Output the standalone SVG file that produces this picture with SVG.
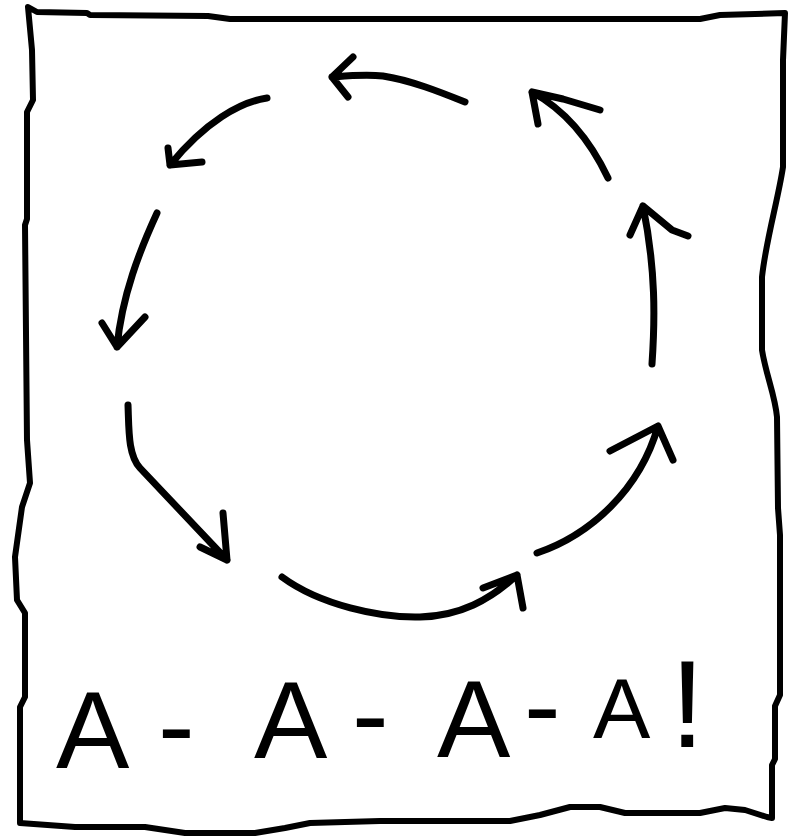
<svg xmlns="http://www.w3.org/2000/svg" width="788" height="838" viewBox="0 0 788 838">
<style>
.ink{fill:none;stroke:#000;stroke-linecap:round;stroke-linejoin:round}
.frame{stroke-width:6}
.arrow{stroke-width:7}
.label{font-family:"Liberation Sans",Arial,sans-serif;font-size:110px;fill:#000}
</style>
<rect width="788" height="838" fill="#fff"/>
<g id="frame">
<path class="ink frame" d="M37,12 L87,13 L90,15 L208,16 L230,19 L700,19 L720,15 L785,13 L783,60 L783,167 C778,200 766,240 762,277 L762,350 C766,375 775,395 777,417 L778,508 L780,535 L780,695 L775,706 L775,759 L772,765 L772,818 L767,817 L745,810 L725,808 L700,813 L625,813 L600,807 L570,807 L540,815 L510,821 L380,821 L310,823 L285,828 L255,833 L185,833 L145,827 L75,827 L20,823 L20,707 L25,697 L25,613 L17,600 L15,557 L22,507 L30,483 L27,440 L25,225 L27,219 L27,112 L33,100 L32,50 L28,7 Z"/>
</g>
<g id="connectors">
<g id="arrow1"><path class="ink arrow" d="M465,102 C440,92 410,80 383,76 C365,74 345,76 332,77 M353,57 L332,77 L348,97"/></g>
<g id="arrow2"><path class="ink arrow" d="M267,98 C240,102 205,122 170,165 M168,148 L170,165 L202,162"/></g>
<g id="arrow3"><path class="ink arrow" d="M157,213 C140,250 122,295 117,347 M102,323 L117,347 L145,317"/></g>
<g id="arrow4"><path class="ink arrow" d="M128,405 C129,430 128,455 140,468 L227,560 M223,513 L227,560 L200,547"/></g>
<g id="arrow5"><path class="ink arrow" d="M282,577 C320,605 380,618 420,617 C460,616 490,600 517,575 M483,588 L517,575 L523,608"/></g>
<g id="arrow6"><path class="ink arrow" d="M537,553 C590,535 640,490 658,426 M610,451 L658,426 L673,460"/></g>
<g id="arrow7"><path class="ink arrow" d="M652,364 C655,320 656,270 643,206 M630,235 L643,206 L672,230 L688,236"/></g>
<g id="arrow8"><path class="ink arrow" d="M608,178 C590,140 565,110 532,92 M600,110 L563,99 L532,92 L538,124"/></g>
</g>
<g id="label">
<text class="label"><tspan x="56" y="768">A</tspan><tspan x="158" y="763">- </tspan><tspan x="254" y="758">A</tspan><tspan x="352" y="752">- </tspan><tspan x="437" y="757">A</tspan><tspan x="524" y="743">- </tspan><tspan x="593" y="738" font-size="86">A</tspan><tspan x="670" y="747" font-size="125">!</tspan></text>
</g>
</svg>
